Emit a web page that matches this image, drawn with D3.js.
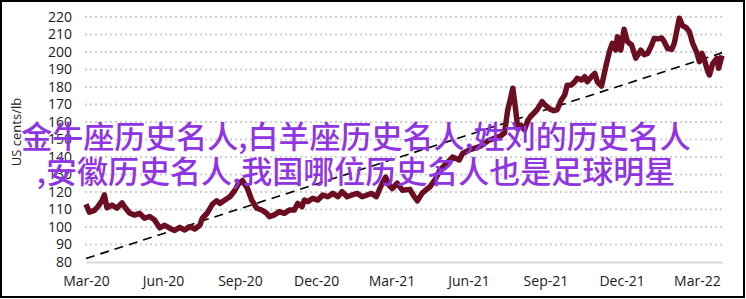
<!DOCTYPE html>
<html>
<head>
<meta charset="utf-8">
<script src="https://cdn.jsdelivr.net/npm/d3@7"></script>
<style>
  body { margin: 0; background: #fff; }
  svg { display: block; }
</style>
</head>
<body>
<svg width="746" height="299"></svg>
<script>
var svg = d3.select("svg"),
    width = +svg.attr("width"),
    height = +svg.attr("height");

// price, US cents/lb
var dates = [
  "2020-03-01","2020-03-05","2020-03-11","2020-03-15","2020-03-20","2020-03-23","2020-03-26",
  "2020-04-01","2020-04-07","2020-04-13","2020-04-16","2020-04-22","2020-04-28",
  "2020-05-04","2020-05-10","2020-05-16","2020-05-22","2020-05-28",
  "2020-06-03","2020-06-09","2020-06-15","2020-06-21","2020-06-27",
  "2020-07-03","2020-07-09","2020-07-15","2020-07-18","2020-07-24","2020-07-30",
  "2020-08-04","2020-08-08","2020-08-14","2020-08-20","2020-08-26","2020-08-30",
  "2020-09-04","2020-09-10","2020-09-15","2020-09-21","2020-09-27",
  "2020-10-03","2020-10-06","2020-10-12","2020-10-18","2020-10-24","2020-10-30",
  "2020-11-05","2020-11-09","2020-11-14","2020-11-17","2020-11-21","2020-11-27",
  "2020-12-03","2020-12-09","2020-12-15","2020-12-21","2020-12-27",
  "2021-01-01","2021-01-07","2021-01-13","2021-01-19","2021-01-25","2021-01-31",
  "2021-02-05","2021-02-11","2021-02-17","2021-02-22","2021-02-26",
  "2021-03-02","2021-03-08","2021-03-14","2021-03-23","2021-03-28",
  "2021-04-01","2021-04-07","2021-04-16","2021-04-22","2021-04-28",
  "2021-05-06","2021-05-13","2021-05-21","2021-05-25",
  "2021-06-02","2021-06-14","2021-06-26",
  "2021-07-08","2021-07-14","2021-07-18","2021-07-20","2021-07-24","2021-07-27","2021-07-30",
  "2021-08-03","2021-08-07","2021-08-11","2021-08-14","2021-08-18","2021-08-22","2021-08-28","2021-08-31",
  "2021-09-06","2021-09-11","2021-09-15","2021-09-20","2021-09-24","2021-09-27",
  "2021-10-02","2021-10-06","2021-10-09","2021-10-14","2021-10-18","2021-10-21","2021-10-26","2021-10-30",
  "2021-11-02","2021-11-07","2021-11-10","2021-11-13","2021-11-17","2021-11-20","2021-11-24","2021-11-26","2021-11-30",
  "2021-12-04","2021-12-08","2021-12-13","2021-12-18","2021-12-24","2021-12-28",
  "2022-01-01","2022-01-06","2022-01-09","2022-01-13","2022-01-18","2022-01-21","2022-01-25","2022-01-30",
  "2022-02-02","2022-02-06","2022-02-08","2022-02-12","2022-02-16","2022-02-20","2022-02-24",
  "2022-03-01","2022-03-04","2022-03-07","2022-03-10","2022-03-14","2022-03-16","2022-03-20","2022-03-25","2022-03-27","2022-03-31"
];
var prices = [
  113,108.5,109.5,111.5,115,118.3,111,
  112.5,110.8,113.8,111.6,108,106.8,
  107.8,105,106,104,99.5,
  101,99.3,98,99.8,98.3,
  100.2,98.9,101,105,108,113,
  115,113.5,115.4,117.3,121,124.5,
  126.5,122,115.4,110.7,109.7,
  107.8,105.9,106.9,108.8,107.8,109.7,
  109.7,113.5,111.6,115.4,114.5,116.4,
  115.4,118.3,117.3,119.2,117.3,
  120.2,117.3,118.3,119.2,117.3,118.3,
  119.2,117.3,124,128.5,124,
  122,125,121,121.5,117.5,
  115,119.5,123,126.9,132.6,
  136.4,140,138.3,142,
  144,145.9,149.7,
  151.6,153.7,166.9,170.7,179.3,168.7,156,
  158,155.5,161,163,165,167,171.6,170,
  167.5,166.5,167,172.6,175.4,181,
  181.1,183,185,184,185.9,183,185.9,187.8,
  183,180.5,186.9,193.5,201.1,205,201.1,208.7,201.1,
  213,205.9,204,196.5,201,198.5,
  199.2,204,207.8,207.5,208,205.9,202,201.5,
  205,214.5,219.3,215,214,211.6,205,
  199.5,194.5,199.2,195.4,188.8,186.9,193.5,196.4,190.7,198
];

var trendDates = ["2020-03-01", "2022-03-31"];
var trendValues = [82, 199.5];

var yTicks = d3.range(80, 221, 10);
var xTicks = ["2020-03-01","2020-06-01","2020-09-01","2020-12-01","2021-03-01",
              "2021-06-01","2021-09-01","2021-12-01","2022-03-01"];

var titleLines = ["金牛座历史名人,白羊座历史名人,姓刘的历史名人",
                  ",安徽历史名人,我国哪位历史名人也是足球明星"];

var parse = d3.timeParse("%Y-%m-%d");
var series = dates.map(function(d, i) { return {date: parse(d), value: prices[i]}; });
var trend = trendDates.map(function(d, i) { return {date: parse(d), value: trendValues[i]}; });

var x = d3.scaleTime()
    .domain([parse("2020-03-01"), parse("2022-03-31")])
    .range([86, 722]);

var y = d3.scaleLinear()
    .domain([80, 220])
    .range([262, 17]);

// frame
svg.append("rect")
    .attr("x", 1).attr("y", 1)
    .attr("width", 743).attr("height", 296)
    .attr("fill", "#fff")
    .attr("stroke", "#000")
    .attr("stroke-width", 2);

// dotted grid
svg.append("g")
    .selectAll("line")
    .data(yTicks.filter(function(d) { return d > 80; }))
    .enter().append("line")
    .attr("x1", 85).attr("x2", 722)
    .attr("y1", function(d) { return y(d); })
    .attr("y2", function(d) { return y(d); })
    .attr("stroke", "#cfcfcf")
    .attr("stroke-width", 2)
    .attr("stroke-dasharray", "2,3");

// y axis
var yAxis = svg.append("g")
    .attr("transform", "translate(72,0)")
    .call(d3.axisLeft(y).tickValues(yTicks).tickSize(0).tickPadding(0));
yAxis.select(".domain").remove();
yAxis.selectAll("text")
    .attr("font-family", "'Open Sans', sans-serif")
    .attr("font-size", 14)
    .attr("fill", "#1a1a1a");

// x axis
var xAxis = svg.append("g")
    .attr("transform", "translate(0,262)")
    .call(d3.axisBottom(x)
        .tickValues(xTicks.map(parse))
        .tickFormat(d3.timeFormat("%b-%y"))
        .tickSize(0)
        .tickPadding(14));
xAxis.select(".domain")
    .attr("stroke", "#d9d9d9")
    .attr("stroke-width", 2);
xAxis.selectAll("text")
    .attr("font-family", "'Open Sans', sans-serif")
    .attr("font-size", 14)
    .attr("fill", "#1a1a1a");

svg.append("text")
    .attr("transform", "translate(21,132) rotate(-90)")
    .attr("text-anchor", "middle")
    .attr("font-family", "'Open Sans', sans-serif")
    .attr("font-size", 13)
    .attr("fill", "#222")
    .text("US cents/lb");

var line = d3.line()
    .x(function(d) { return x(d.date); })
    .y(function(d) { return y(d.value); });

svg.append("path")
    .datum(trend)
    .attr("fill", "none")
    .attr("stroke", "#000")
    .attr("stroke-width", 1.6)
    .attr("stroke-dasharray", "9,6")
    .attr("d", line);

svg.append("path")
    .datum(series)
    .attr("fill", "none")
    .attr("stroke", "#6b0e22")
    .attr("stroke-width", 5.5)
    .attr("stroke-linejoin", "round")
    .attr("d", line);

svg.append("g")
    .selectAll("text")
    .data(titleLines)
    .enter().append("text")
    .attr("x", 356)
    .attr("y", function(d, i) { return 148 + i * 35; })
    .attr("text-anchor", "middle")
    .attr("font-family", "'Noto Sans CJK SC', sans-serif")
    .attr("font-size", 31)
    .attr("font-weight", 500)
    .attr("fill", "#8f35e1")
    .text(function(d) { return d; });
</script>
</body>
</html>
